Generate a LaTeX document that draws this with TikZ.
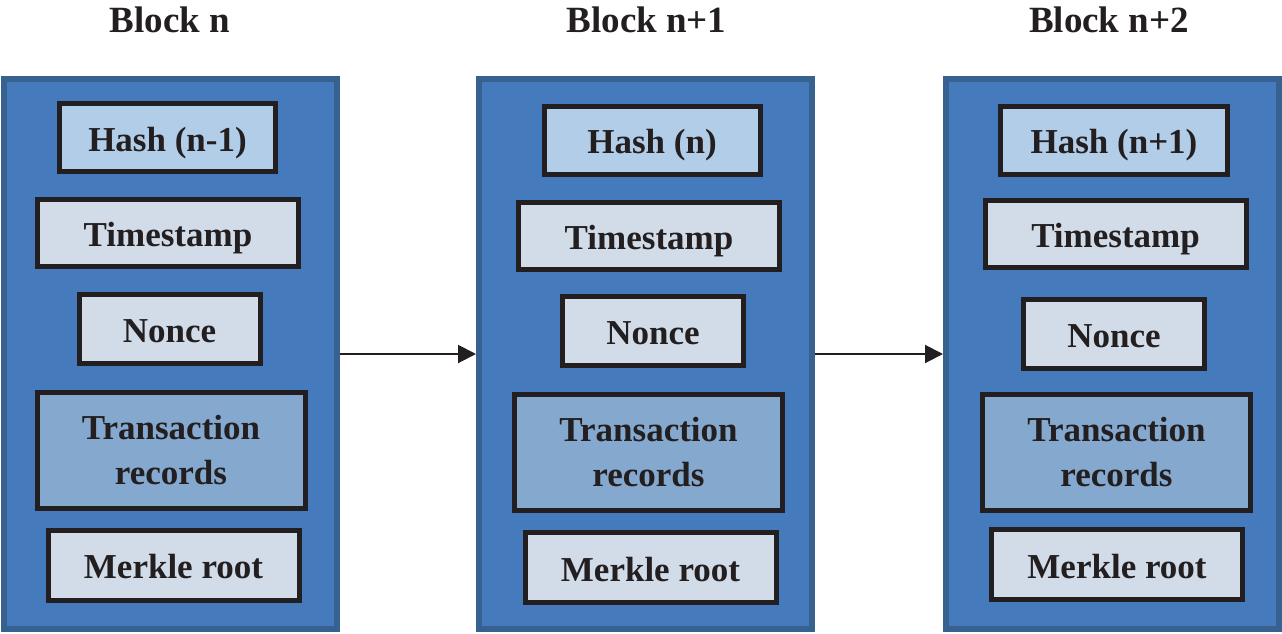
\documentclass[tikz,border=0pt]{standalone}
\usepackage{fontspec}
\setmainfont{Liberation Serif}
\usetikzlibrary{arrows.meta,positioning}

\definecolor{blockfill}{RGB}{69,123,188}
\definecolor{blockline}{RGB}{55,98,144}
\definecolor{hashfill}{RGB}{178,205,232}
\definecolor{plainfill}{RGB}{210,220,233}
\definecolor{txfill}{RGB}{132,168,206}
\definecolor{ink}{RGB}{35,31,32}

\begin{document}
\begin{tikzpicture}[
  x=1pt, y=-1pt,
  chainblock/.style={draw=blockline, line width=6pt, fill=blockfill, minimum width=333pt, minimum height=550pt, inner sep=0pt},
  field/.style={draw=ink, line width=5pt, fill=plainfill, inner sep=0pt, minimum height=68pt, text height=27pt, text depth=0pt, text=ink, font=\fontsize{35}{45}\selectfont\bfseries},
  hashbox/.style={field, fill=hashfill, minimum width=216pt},
  timebox/.style={field, minimum width=261pt, minimum height=67pt},
  noncebox/.style={field, minimum width=181pt, minimum height=69pt},
  txbox/.style={field, fill=txfill, minimum width=268pt, minimum height=116pt, text height=, text depth=, align=center},
  rootbox/.style={field, minimum width=251pt, minimum height=70pt},
  title/.style={anchor=base, text=ink, font=\fontsize{37}{40}\selectfont\bfseries},
  link/.style={-{Triangle[length=18pt, width=18pt]}, line width=2pt, draw=ink}
]
\useasboundingbox (0,0) rectangle (1282,633);

% block n
\node[chainblock] (blk1) at (170,354) {};
\node[title] (title1) at (170,32) {Block n};
\node[hashbox] (hash1) at (167.5,137.5) {Hash (n-1)};
\node[timebox] (time1) at (168,233) {Timestamp};
\node[noncebox] (nonce1) at (169.5,329) {Nonce};
\node[txbox] (tx1) at (171,450) {Transaction\\records};
\node[rootbox] (root1) at (173.5,565) {Merkle root};

% block n+1
\node[chainblock] (blk2) at (645.5,354) {};
\node[title] (title2) at (646.5,32) {Block n+1};
\node[hashbox] (hash2) at (652,140) {Hash (n)};
\node[timebox] (time2) at (649,235.5) {Timestamp};
\node[noncebox] (nonce2) at (653,331) {Nonce};
\node[txbox] (tx2) at (648.5,452.5) {Transaction\\records};
\node[rootbox] (root2) at (650.5,567.5) {Merkle root};

% block n+2
\node[chainblock] (blk3) at (1112.5,354) {};
\node[title] (title3) at (1109,32) {Block n+2};
\node[hashbox, minimum width=227pt] (hash3) at (1114,140) {Hash (n+1)};
\node[timebox] (time3) at (1115.5,233.5) {Timestamp};
\node[noncebox] (nonce3) at (1114,334) {Nonce};
\node[txbox] (tx3) at (1116.5,452.5) {Transaction\\records};
\node[rootbox] (root3) at (1117,564.5) {Merkle root};

\draw[link] (blk1.east) -- (blk2.west);
\draw[link] (blk2.east) -- (blk3.west);
\end{tikzpicture}
\end{document}
